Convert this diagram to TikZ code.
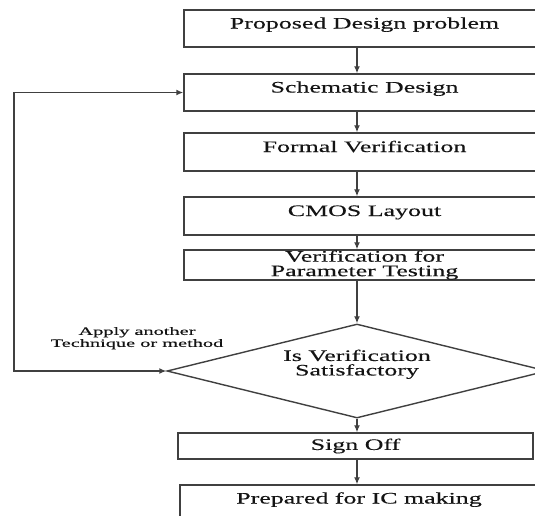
\documentclass[tikz,border=0pt]{standalone}
\usepackage{fontspec}
\newfontfamily\boxfont[FakeStretch=1.62,FakeBold=0.2]{Liberation Serif}
\newfontfamily\lblfont[FakeStretch=1.8,FakeBold=0.25]{Liberation Serif}
\usetikzlibrary{shapes.geometric,arrows.meta}
\begin{document}
\begin{tikzpicture}[x=1pt,y=-1pt,
  boxline/.style={draw=black!75, line width=1.4pt},
  txt/.style={text=black!92, font=\boxfont\fontsize{16}{14.5}\selectfont},
  box/.style={boxline, txt, rectangle, inner xsep=0pt, inner ysep=0pt,
    text height=18.5pt, text depth=18.5pt},
  tallbox/.style={box, text height=19pt, text depth=19pt},
  twobox/.style={boxline, txt, rectangle, inner sep=0pt, align=center},
  decision/.style={boxline, txt, diamond, aspect=4, inner sep=0pt, align=center,
    minimum width=380pt, minimum height=94pt},
  arr/.style={draw=black!75, line width=1.3pt, -{Latex[length=7pt,width=6pt]}},
  fb/.style={draw=black!75, line width=1.4pt, {Latex[length=7pt,width=6pt]}-{Latex[length=7pt,width=6pt]}},
  lbl/.style={text=black!92, font=\lblfont\fontsize{11.3}{12}\selectfont, align=center, inner sep=0pt}
]
\useasboundingbox (0,0) rectangle (535,515);
\clip (0,0) rectangle (535,515);
\fill[white] (0,0) rectangle (535,515);

\coordinate (ax) at (357,0);
\coordinate (fbl) at (14,0);

\node[box, minimum width=361pt] (b1) at (364.5,28.5) {Proposed Design problem};
\node[box, minimum width=361pt] (b2) at (364.5,92.5) {Schematic Design};
\node[tallbox, minimum width=361pt] (b3) at (364.5,152) {Formal Verification};
\node[tallbox, minimum width=361pt] (b4) at (364.5,216) {CMOS Layout};
\node[twobox, minimum width=361pt, minimum height=30pt] (b5) at (364.5,265) {Verification for\\Parameter Testing};
\node[decision] (d) at (357,371) {Is Verification\\Satisfactory\\[-2pt]\strut};
\node[twobox, minimum width=355pt, minimum height=26pt] (s) at (355.5,446) {Sign Off};
\node[box, minimum width=358pt] (p) at (359,503.5) {Prepared for IC making};

\node[lbl, anchor=south] (lab) at (137,349.5) {Apply another\\Technique or method};

\draw[arr] (b1.south -| ax) -- (b2.north -| ax);
\draw[arr] (b2.south -| ax) -- (b3.north -| ax);
\draw[arr] (b3.south -| ax) -- (b4.north -| ax);
\draw[arr] (b4.south -| ax) -- (b5.north -| ax);
\draw[arr] (b5.south -| ax) -- (d.north);
\draw[arr] (d.south) -- (s.north -| ax);
\draw[arr] (s.south -| ax) -- (p.north -| ax);

\draw[fb] (d.west) -- (d.west -| fbl) -- (b2.west -| fbl) -- (b2.west);
\end{tikzpicture}
\end{document}
